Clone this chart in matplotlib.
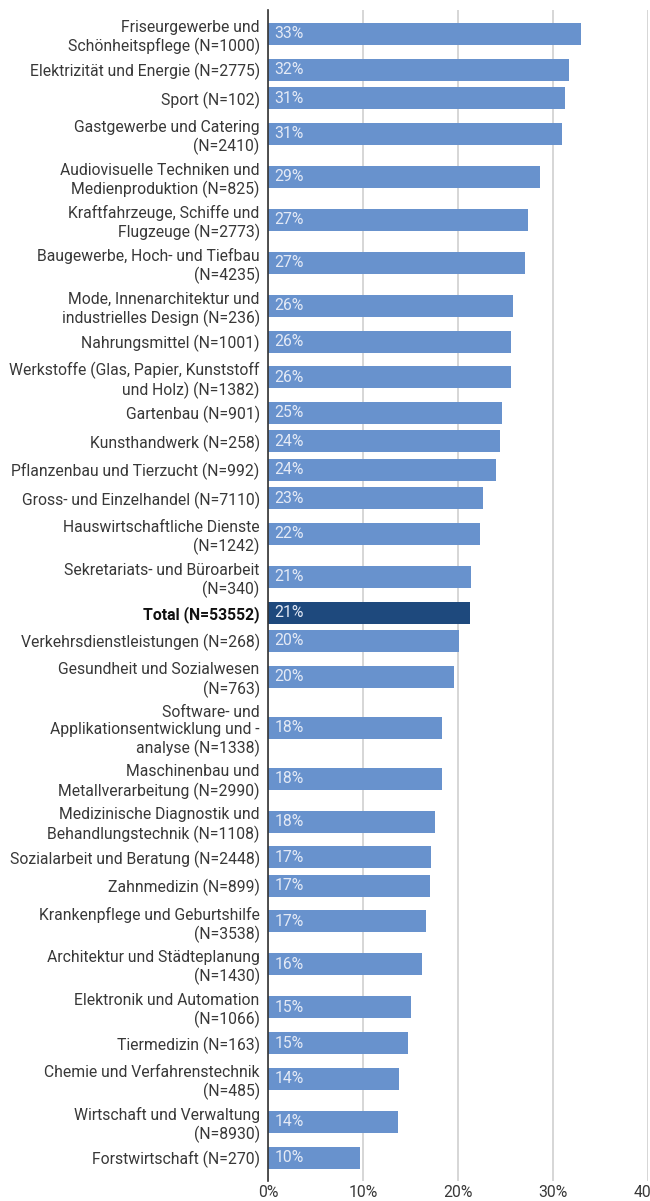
import numpy as np
import matplotlib
matplotlib.use("Agg")
import matplotlib.pyplot as plt

plt.rcParams["font.family"] = ["Roboto", "DejaVu Sans"]

LABELS = [
    "Friseurgewerbe und\nSchönheitspflege (N=1000)",
    "Elektrizität und Energie (N=2775)",
    "Sport (N=102)",
    "Gastgewerbe und Catering\n(N=2410)",
    "Audiovisuelle Techniken und\nMedienproduktion (N=825)",
    "Kraftfahrzeuge, Schiffe und\nFlugzeuge (N=2773)",
    "Baugewerbe, Hoch- und Tiefbau\n(N=4235)",
    "Mode, Innenarchitektur und\nindustrielles Design (N=236)",
    "Nahrungsmittel (N=1001)",
    "Werkstoffe (Glas, Papier, Kunststoff\nund Holz) (N=1382)",
    "Gartenbau (N=901)",
    "Kunsthandwerk (N=258)",
    "Pflanzenbau und Tierzucht (N=992)",
    "Gross- und Einzelhandel (N=7110)",
    "Hauswirtschaftliche Dienste\n(N=1242)",
    "Sekretariats- und Büroarbeit\n(N=340)",
    "Total (N=53552)",
    "Verkehrsdienstleistungen (N=268)",
    "Gesundheit und Sozialwesen\n(N=763)",
    "Software- und\nApplikationsentwicklung und -\nanalyse (N=1338)",
    "Maschinenbau und\nMetallverarbeitung (N=2990)",
    "Medizinische Diagnostik und\nBehandlungstechnik (N=1108)",
    "Sozialarbeit und Beratung (N=2448)",
    "Zahnmedizin (N=899)",
    "Krankenpflege und Geburtshilfe\n(N=3538)",
    "Architektur und Städteplanung\n(N=1430)",
    "Elektronik und Automation\n(N=1066)",
    "Tiermedizin (N=163)",
    "Chemie und Verfahrenstechnik\n(N=485)",
    "Wirtschaft und Verwaltung\n(N=8930)",
    "Forstwirtschaft (N=270)",
]
VALUES = [32.9, 31.7, 31.3, 30.9, 28.6, 27.4, 27.1, 25.8, 25.6, 25.6,
          24.6, 24.4, 24.0, 22.6, 22.3, 21.4, 21.3, 20.1, 19.6, 18.3,
          18.3, 17.6, 17.2, 17.1, 16.6, 16.2, 15.1, 14.7, 13.8, 13.7, 9.7]
TOTAL_LABEL = "Total (N=53552)"
X_TICKS = [0, 10, 20, 30, 40]

BAR_COLOR = "#6892cd"
TOTAL_COLOR = "#1e497d"
TEXT_COLOR = "#383838"
FS = 11.3

# row height grows with number of label lines (pixel-like units)
n_lines = np.array([lab.count("\n") + 1 for lab in LABELS])
row_h = np.maximum(28.4, 16.0 * n_lines + 11.0)
bottoms = np.concatenate([[0], np.cumsum(row_h)[:-1]])
centers = bottoms + row_h / 2

fig = plt.figure(figsize=(6.5, 12.01), dpi=100)
ax = fig.add_axes([268 / 650, 1 - 1180.5 / 1201, 380 / 650, 1170.5 / 1201])

colors = [TOTAL_COLOR if lab == TOTAL_LABEL else BAR_COLOR for lab in LABELS]
ax.barh(centers, VALUES, height=22, color=colors, zorder=2)

for y, v in zip(centers, VALUES):
    ax.text(0.7, y, f"{round(v):.0f}%", va="center", ha="left",
            fontsize=FS, color="#e4eaf6", zorder=3)

ax.set_ylim(1170.5 - 2.5, -2.5)
ax.set_xlim(0, 40)
ax.set_yticks(centers)
ax.set_yticklabels(LABELS, fontsize=FS, color=TEXT_COLOR, linespacing=1.22)
for t in ax.get_yticklabels():
    if t.get_text() == TOTAL_LABEL:
        t.set_fontweight("bold")
        t.set_color("#111111")
ax.set_xticks(X_TICKS)
ax.set_xticklabels([f"{x}%" for x in X_TICKS], fontsize=FS, color=TEXT_COLOR)
ax.tick_params(axis="both", length=0)
ax.tick_params(axis="y", pad=6)
ax.tick_params(axis="x", pad=3)

ax.grid(axis="x", color="#d0d0d0", linewidth=1.2, zorder=0)
ax.set_axisbelow(True)
for side in ["top", "right", "bottom"]:
    ax.spines[side].set_visible(False)
ax.spines["left"].set_color("#333333")
ax.spines["left"].set_linewidth(1.2)
ax.spines["left"].set_zorder(4)

fig.savefig("out.png", dpi=100)
